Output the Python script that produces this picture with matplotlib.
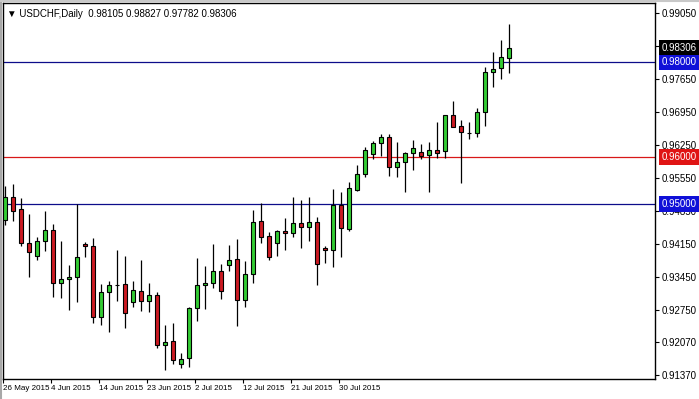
import numpy as np
import matplotlib.pyplot as plt
from matplotlib import font_manager

plt.rcParams['font.family'] = ['Liberation Sans', 'DejaVu Sans']

# daily USDCHF candles
opens = [0.9466, 0.9515, 0.9489, 0.9417, 0.9390, 0.9421, 0.9444, 0.9332, 0.9340, 0.9346,
         0.9415, 0.9410, 0.9261, 0.9313, 0.9328, 0.9330, 0.9291, 0.9315, 0.9293, 0.9306,
         0.9200, 0.9209, 0.9160, 0.9173, 0.9279, 0.9327, 0.9332, 0.9358, 0.9370, 0.9383,
         0.9296, 0.9351, 0.9463, 0.9431, 0.9417, 0.9442, 0.9438, 0.9459, 0.9450, 0.9461,
         0.9407, 0.9402, 0.9497, 0.9447, 0.9530, 0.9563, 0.9605, 0.9629, 0.9641, 0.9578,
         0.9588, 0.9609, 0.9610, 0.9603, 0.9614, 0.9612, 0.9688, 0.9665, 0.9651, 0.9651,
         0.9694, 0.9779, 0.9788, 0.98105]
highs = [0.9537, 0.9542, 0.9512, 0.9479, 0.9430, 0.9484, 0.9457, 0.9421, 0.9370, 0.9500,
         0.9420, 0.9427, 0.9330, 0.9337, 0.9402, 0.9390, 0.9337, 0.9381, 0.9332, 0.9313,
         0.9243, 0.9247, 0.9183, 0.9282, 0.9385, 0.9368, 0.9415, 0.9372, 0.9413, 0.9425,
         0.9378, 0.9487, 0.9501, 0.9440, 0.9445, 0.9470, 0.9514, 0.9508, 0.9514, 0.9473,
         0.9411, 0.9532, 0.9525, 0.9547, 0.9583, 0.9621, 0.9634, 0.9648, 0.9648, 0.9631,
         0.9611, 0.9636, 0.9627, 0.9632, 0.9673, 0.9688, 0.9719, 0.9678, 0.9674, 0.9703,
         0.9790, 0.9822, 0.9848, 0.98827]
lows = [0.9455, 0.9464, 0.9411, 0.9346, 0.9380, 0.9401, 0.9303, 0.9300, 0.9275, 0.9291,
        0.9387, 0.9248, 0.9243, 0.9229, 0.9293, 0.9237, 0.9281, 0.9272, 0.9270, 0.9194,
        0.9148, 0.9160, 0.9151, 0.9153, 0.9252, 0.9277, 0.9322, 0.9298, 0.9358, 0.9240,
        0.9282, 0.9332, 0.9417, 0.9380, 0.9390, 0.9403, 0.9429, 0.9406, 0.9422, 0.9327,
        0.9374, 0.9366, 0.9387, 0.9443, 0.9527, 0.9557, 0.9595, 0.9602, 0.9559, 0.9558,
        0.9525, 0.9571, 0.9596, 0.9526, 0.9598, 0.9597, 0.9663, 0.9545, 0.9638, 0.9641,
        0.9666, 0.9749, 0.9766, 0.97782]
closes = [0.9514, 0.9486, 0.9417, 0.9397, 0.9421, 0.9444, 0.9332, 0.9340, 0.9345, 0.9387,
          0.9410, 0.9261, 0.9313, 0.9327, 0.9328, 0.9268, 0.9317, 0.9293, 0.9306, 0.9200,
          0.9207, 0.9168, 0.9170, 0.9279, 0.9327, 0.9332, 0.9357, 0.9315, 0.9381, 0.9296,
          0.9351, 0.9461, 0.9429, 0.9387, 0.9442, 0.9438, 0.9459, 0.9450, 0.9461, 0.9372,
          0.9402, 0.9497, 0.9448, 0.9533, 0.9564, 0.9614, 0.9629, 0.9641, 0.9578, 0.9588,
          0.9607, 0.9619, 0.9602, 0.9614, 0.9609, 0.9688, 0.9664, 0.9652, 0.9650, 0.9694,
          0.9779, 0.9786, 0.9811, 0.98306]

date_labels = ['26 May 2015', '4 Jun 2015', '14 Jun 2015', '23 Jun 2015',
               '2 Jul 2015', '12 Jul 2015', '21 Jul 2015', '30 Jul 2015']
price_ticks = [0.99050, 0.98350, 0.97650, 0.96950, 0.96250, 0.95550,
               0.94850, 0.94150, 0.93450, 0.92750, 0.92070, 0.91370]
levels = [0.98, 0.96, 0.95]
level_colors = ['#0c0c8a', '#d81818', '#0c0c8a']
level_boxes = ['#1010d8', '#e01414', '#1010d8']

# narrow font for the dates if one is around
names = {f.name for f in font_manager.fontManager.ttflist}
narrow = 'Liberation Sans Narrow' if 'Liberation Sans Narrow' in names else 'Liberation Sans'
date_size = 7 if narrow == 'Liberation Sans Narrow' else 5.8

o = np.array(opens); h = np.array(highs); l = np.array(lows); c = np.array(closes)
x = np.arange(len(o))
up = c >= o

fig = plt.figure(figsize=(6.99, 3.99), dpi=100)
fig.patch.set_facecolor('white')
ax = fig.add_axes([3/699, 20/399, 652/699, 376/399])

for lv, col in zip(levels, level_colors):
    ax.axhline(lv, color=col, lw=0.9, zorder=1)

ax.vlines(x, l, h, color='black', lw=0.9, zorder=2)
body_col = np.where(up, '#33cc33', '#cc1a22')
flat = np.isclose(o, c, atol=0.00006)
body_col = np.where(flat, 'black', body_col)
ax.bar(x, np.abs(c - o), bottom=np.minimum(o, c), width=0.62,
       color=body_col, edgecolor='black', linewidth=0.8, zorder=3)

ax.set_xlim(-0.25, 81.25)
ax.set_ylim(0.91286, 0.99262)

ax.yaxis.tick_right()
ax.set_yticks(price_ticks)
ax.set_yticklabels(['%.5f' % t for t in price_ticks])
ax.tick_params(axis='y', length=3, width=0.8, pad=2, labelsize=7, colors='black')
ax.set_xticks([6 * j - 0.25 for j in range(len(date_labels))])
ax.set_xticklabels(date_labels, ha='left', family=narrow, fontsize=date_size)
ax.tick_params(axis='x', length=3, width=0.8, pad=1)
for s in ax.spines.values():
    s.set_linewidth(1.0)
    s.set_color('black')

# price labels on the right scale
ytr = ax.get_yaxis_transform()
box_vals = [closes[-1]] + levels
box_cols = ['black'] + level_boxes
for v, bc in zip(box_vals, box_cols):
    ax.text(1 + 7/652, v, '%.5f' % v, transform=ytr, fontsize=7, color='white',
            va='center', ha='left', clip_on=False, zorder=10,
            bbox=dict(boxstyle='square,pad=0.3', fc=bc, ec='none'))

ax.text(0.006, 0.985, '\u25bc USDCHF,Daily  %.5f %.5f %.5f %.5f'
        % (opens[-1], highs[-1], lows[-1], closes[-1]),
        transform=ax.transAxes, fontsize=7, va='top', ha='left')

# grey window edges
fig.add_artist(plt.Line2D([0.0015, 0.0015], [0, 1], color='#a8a8a8', lw=1.5))
fig.add_artist(plt.Line2D([0, 1], [0.997, 0.997], color='#c8c8c8', lw=1.5))

fig.savefig('out.png', dpi=100)
